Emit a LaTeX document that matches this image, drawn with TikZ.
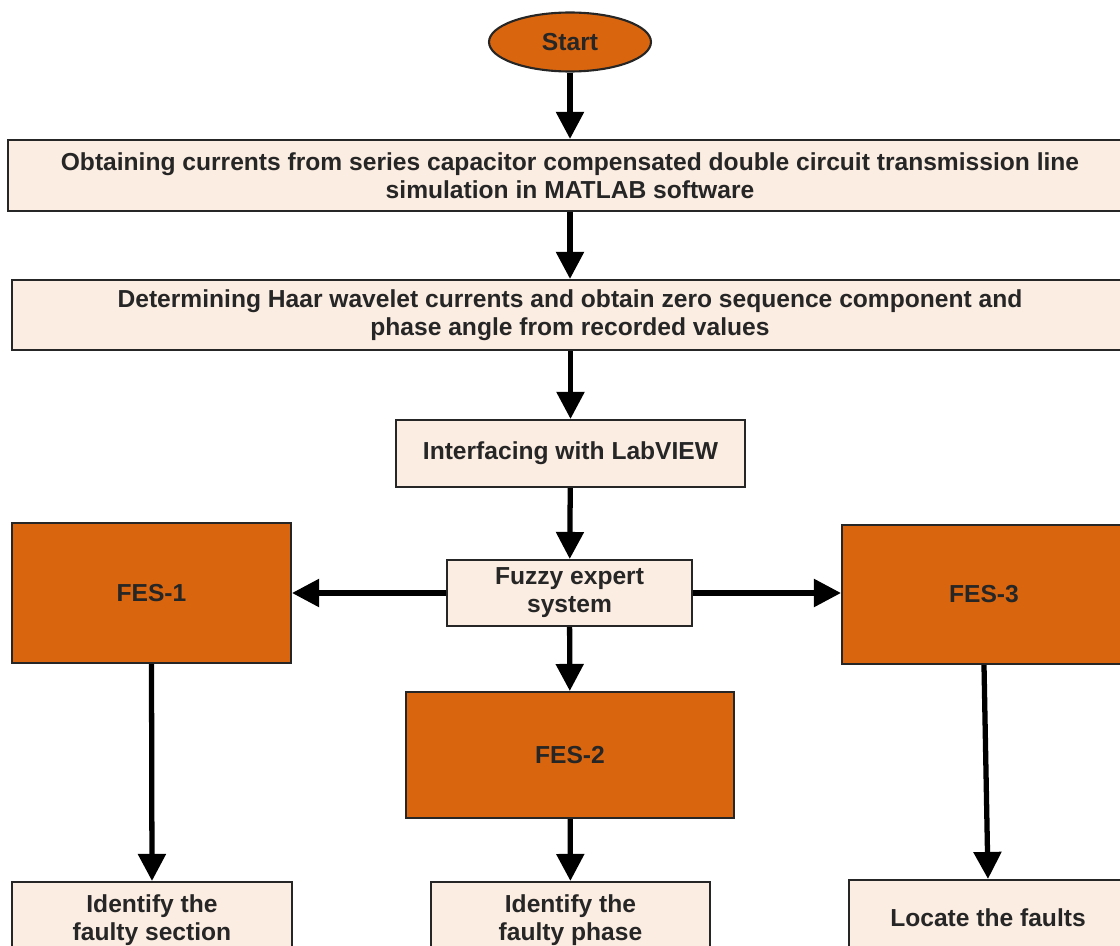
\documentclass[tikz,border=0pt]{standalone}
\usepackage{fontspec}
\setmainfont{Liberation Sans}
\usetikzlibrary{shapes}
\usetikzlibrary{arrows.meta}
\usetikzlibrary{positioning}

\definecolor{fesorange}{HTML}{D9650E}
\definecolor{peach}{HTML}{FCEDE2}

\begin{document}
\begin{tikzpicture}[
	x=0.02cm, y=-0.02cm,
	font=\fontsize{14}{16}\selectfont\bfseries]

\tikzstyle{step box}=[draw=black!85, line width=1.2pt, fill=peach,
	text=black!85, align=center, inner sep=0pt]
\tikzstyle{fes box}=[draw=black!85, line width=1.2pt, fill=fesorange,
	text=black!85, align=center, inner sep=0pt]
\tikzstyle{flow}=[line width=3pt, -{Triangle[length=5.4mm,width=5.4mm]}]

% picture frame
\useasboundingbox (0,0) rectangle (1120,946);
\clip (0,0) rectangle (1120,946);

% start
\node (start) at (570,42) [ellipse, draw=black!85, line width=1.2pt,
	fill=fesorange, text=black!85, minimum width=3.24cm,
	minimum height=1.18cm] {Start};

% main chain
\node (simul) at (570,175.5) [step box, minimum width=22.48cm,
	minimum height=1.42cm]
	{Obtaining currents from series capacitor compensated double circuit transmission line\\
	simulation in MATLAB software};
\node (haar) at (570,315) [step box, minimum width=22.32cm,
	minimum height=1.4cm]
	{Determining Haar wavelet currents and obtain zero sequence component and\\
	phase angle from recorded values};
\node (labview) at (570.5,453.5) [step box, minimum width=6.98cm,
	minimum height=1.34cm] {Interfacing with LabVIEW};
\node (fuzzy) at (569.5,593) [step box, minimum width=4.9cm,
	minimum height=1.32cm] {Fuzzy expert\\system};

% expert systems
\node (fes1) at (151.5,593) [fes box, minimum width=5.58cm,
	minimum height=2.8cm] {FES-1};
\node (fes2) at (570,755) [fes box, minimum width=6.56cm,
	minimum height=2.52cm] {FES-2};
\node (fes3) at (984,594.5) [fes box, minimum width=5.68cm,
	minimum height=2.78cm] {FES-3};

% outputs
\node (section) at (152,920) [step box, minimum width=5.6cm,
	minimum height=1.52cm] {Identify the\\faulty section};
\node (phase) at (570.5,920) [step box, minimum width=5.58cm,
	minimum height=1.52cm] {Identify the\\faulty phase};
\node (locate) at (988,918) [step box, minimum width=5.56cm,
	minimum height=1.52cm] {Locate the faults};

% arrows
\draw[flow] (start) -- (simul);
\draw[flow] (simul) -- (haar);
\draw[flow] (haar.south -| labview.north) -- (labview);
\draw[flow] (labview) -- (fuzzy);
\draw[flow] (fuzzy) -- (fes1);
\draw[flow] (fuzzy) -- (fes3.west |- fuzzy.east);
\draw[flow] (fuzzy) -- (fes2);
\draw[flow] (fes1.south) -- (section.north);
\draw[flow] (fes2) -- (phase);
\draw[flow] (fes3.south) -- (locate.north);

\end{tikzpicture}
\end{document}
